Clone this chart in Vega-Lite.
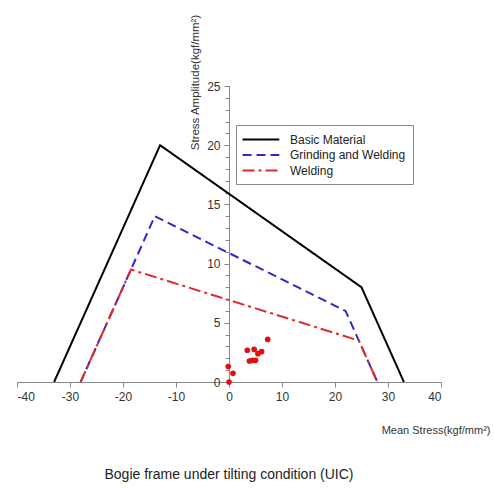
{
  "$schema": "https://vega.github.io/schema/vega-lite/v6.json",
  "autosize": "none",
  "width": 424,
  "height": 296,
  "padding": {"left": 17, "top": 86, "right": 53, "bottom": 106},
  "background": "white",
  "config": {
    "view": {"stroke": null},
    "font": "Liberation Sans",
    "axis": {"grid": false, "labelFont": "Liberation Sans", "titleFont": "Liberation Sans", "labelColor": "#333", "titleColor": "#333", "titleFontWeight": "normal", "domainColor": "#888", "tickColor": "#888"}
  },
  "title": {"text": "Bogie frame under tilting condition (UIC)", "orient": "bottom", "anchor": "middle", "frame": "group", "fontSize": 14, "fontWeight": "normal", "color": "#222", "font": "Liberation Sans", "offset": 33},
  "datasets": {
    "curves": [
      {"series": "Basic Material", "i": 0, "x": -33, "y": 0},
      {"series": "Basic Material", "i": 1, "x": -13, "y": 20},
      {"series": "Basic Material", "i": 2, "x": 25, "y": 8},
      {"series": "Basic Material", "i": 3, "x": 33, "y": 0},
      {"series": "Grinding and Welding", "i": 0, "x": -28, "y": 0},
      {"series": "Grinding and Welding", "i": 1, "x": -14, "y": 14},
      {"series": "Grinding and Welding", "i": 2, "x": 22, "y": 6},
      {"series": "Grinding and Welding", "i": 3, "x": 28, "y": 0},
      {"series": "Welding", "i": 0, "x": -28, "y": 0},
      {"series": "Welding", "i": 1, "x": -18.5, "y": 9.5},
      {"series": "Welding", "i": 2, "x": 24.5, "y": 3.5},
      {"series": "Welding", "i": 3, "x": 28, "y": 0}
    ],
    "points": [
      {"x": 0, "y": 0},
      {"x": -0.15, "y": 1.3},
      {"x": 0.75, "y": 0.73},
      {"x": 3.45, "y": 2.68},
      {"x": 4.75, "y": 2.75},
      {"x": 7.3, "y": 3.6},
      {"x": 3.85, "y": 1.77},
      {"x": 4.4, "y": 1.83},
      {"x": 5.0, "y": 1.83},
      {"x": 5.45, "y": 2.39},
      {"x": 6.15, "y": 2.56}
    ]
  },
  "resolve": {"axis": {"y": "independent"}},
  "layer": [
    {
      "data": {"name": "curves"},
      "mark": {"type": "line", "strokeWidth": 2},
      "encoding": {
        "x": {"field": "x", "type": "quantitative", "scale": {"domain": [-40, 40], "nice": false},
          "axis": {"values": [-40, -30, -20, -10, 0, 10, 20, 30, 40], "labelExpr": "datum.value + ''", "labelOverlap": false, "tickSize": 5, "labelFontSize": 12, "labelPadding": 4,
            "title": "Mean Stress(kgf/mm²)", "titleFontSize": 11, "titleAlign": "right", "titleAnchor": null, "titleX": 473, "titleY": 51, "titleBaseline": "alphabetic"}},
        "y": {"field": "y", "type": "quantitative", "scale": {"domain": [0, 25], "nice": false},
          "axis": {"orient": "left", "values": [0, 5, 10, 15, 20, 25],
            "labelExpr": "datum.value + ''", "labelOverlap": false, "offset": -212, "tickSize": 5, "labelFontSize": 12, "labelPadding": 4,
            "title": "Stress Amplitude(kgf/mm²)", "titleFontSize": 11.5, "titleAngle": 270, "titleX": -34, "titleY": -4, "titleAlign": "center", "titleBaseline": "middle"}},
        "color": {"field": "series", "type": "nominal",
          "scale": {"domain": ["Basic Material", "Grinding and Welding", "Welding"], "range": ["#000000", "#2a2acc", "#e02a2a"]},
          "legend": {"orient": "none", "legendX": 219, "legendY": 39, "title": null, "strokeColor": "#888", "fillColor": "white", "padding": 7,
            "symbolType": "M-1.3,0H4.7", "symbolSize": 150, "symbolStrokeWidth": 2, "labelFontSize": 12, "labelColor": "#222", "labelFont": "Liberation Sans", "labelOffset": 32, "rowPadding": 1.5}},
        "strokeDash": {"field": "series", "type": "nominal",
          "scale": {"domain": ["Basic Material", "Grinding and Welding", "Welding"], "range": [[1, 0], [9, 5], [12, 4, 3, 4]]}},
        "order": {"field": "i", "type": "quantitative"}
      }
    },
    {
      "data": {"name": "points"},
      "mark": {"type": "point", "filled": true, "opacity": 1, "size": 32, "color": "#e01010"},
      "encoding": {
        "x": {"field": "x", "type": "quantitative"},
        "y": {"field": "y", "type": "quantitative",
          "axis": {"orient": "left", "values": [0,1,2,3,4,5,6,7,8,9,10,11,12,13,14,15,16,17,18,19,20,21,22,23,24,25], "labels": false, "domain": false, "title": null, "offset": -212, "tickSize": 4}}
      }
    }
  ]
}
